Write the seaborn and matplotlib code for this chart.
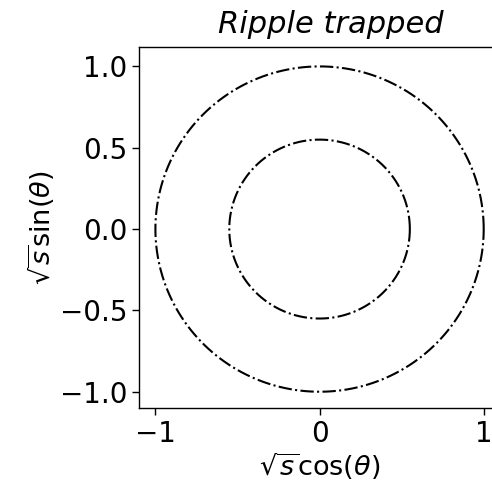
import numpy as np
import pandas as pd
import seaborn as sns
import matplotlib
matplotlib.use("Agg")
import matplotlib.pyplot as plt

# Data
radii = [1.0, 0.55]          # sqrt(s) of the two trapped-orbit boundaries
n_theta = 400
theta = np.linspace(0, 2 * np.pi, n_theta)
x_ticks = [-1, 0, 1]
y_ticks = [-1.0, -0.5, 0.0, 0.5, 1.0]
title = "Ripple trapped"

frames = []
for i, r in enumerate(radii):
    frames.append(pd.DataFrame({
        "x": r * np.cos(theta),
        "y": r * np.sin(theta),
        "curve": i,
    }))
df = pd.concat(frames, ignore_index=True)

sns.set_theme(style="ticks")
plt.rcParams["font.family"] = ["DejaVu Sans"]
plt.rcParams["mathtext.fontset"] = "dejavusans"
plt.rcParams["text.color"] = "black"
plt.rcParams["axes.labelcolor"] = "black"

fig = plt.figure(figsize=(4.92, 4.86), dpi=100)
ax = fig.add_axes([0.2825, 0.1605, 0.734, 0.743])

for i in range(len(radii)):
    sub = df[df["curve"] == i]
    sns.lineplot(data=sub, x="x", y="y", sort=False, estimator=None,
                 color="black", linestyle="-.", linewidth=1.5, ax=ax)

ax.set_xlim(-1.1, 1.1)
ax.set_ylim(-1.1, 1.12)
ax.set_xticks(x_ticks)
ax.set_xticklabels([f"{t:d}".replace("-", "\u2212") for t in x_ticks])
ax.set_yticks(y_ticks)
ax.set_yticklabels([f"{t:.1f}".replace("-", "\u2212") for t in y_ticks])
ax.tick_params(labelsize=20, length=5, width=1, direction="out", colors="black")
for s in ax.spines.values():
    s.set_color("black")
    s.set_linewidth(1)
ax.spines["right"].set_visible(False)

ax.set_xlabel(r"$\sqrt{s}\cos(\theta)$", fontsize=19.5, labelpad=2, color="black")
ax.set_ylabel(r"$\sqrt{s}\sin(\theta)$", fontsize=19.5, labelpad=2, color="black")
ax.set_title(title, fontsize=22, fontstyle="italic", family=["DejaVu Sans"],
             pad=10, color="black")
ax.title.set_x(0.532)

fig.savefig("out.png", dpi=100, facecolor="white")
